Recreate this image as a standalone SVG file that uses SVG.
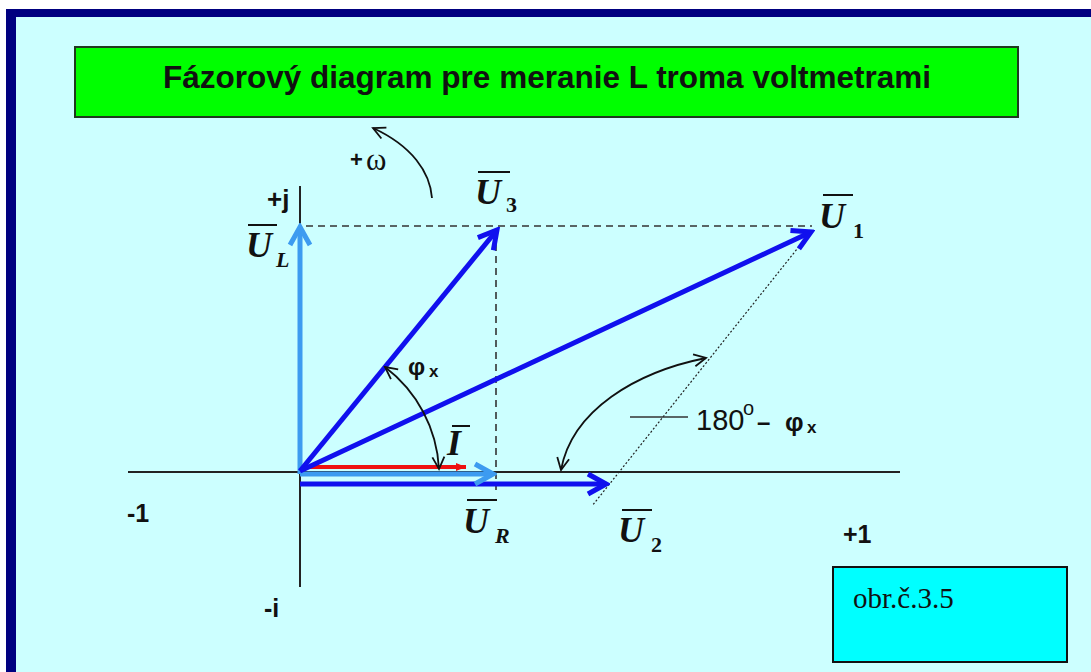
<svg xmlns="http://www.w3.org/2000/svg" width="1091" height="672" viewBox="0 0 1091 672">
<style>
.ax{stroke:#222;stroke-width:2;fill:none}
.dash{stroke:#333;stroke-width:1.6;stroke-dasharray:7 5;fill:none}
.dot{stroke:#222;stroke-width:1.2;stroke-dasharray:2 2;fill:none}
.thin{stroke:#111;stroke-width:1.8;fill:none}
.vb{stroke:#1010EE;stroke-width:5;fill:none}
.vl{stroke:#3D9BF0;stroke-width:5;fill:none}
.vr{stroke:#EE1111;stroke-width:4;fill:none}
.sans{font-family:"Liberation Sans",Arial,sans-serif;fill:#111}
.b{font-weight:bold}
.ser{font-family:"Liberation Serif","Times New Roman",serif;fill:#111}
.u{font-family:"Liberation Serif","Times New Roman",serif;font-weight:bold;font-style:italic;font-size:36px;fill:#111}
.sub{font-family:"Liberation Serif","Times New Roman",serif;font-weight:bold;font-size:22px;fill:#111}
.bar{stroke:#111;stroke-width:2}
</style>
<defs>
<marker id="mb" markerUnits="userSpaceOnUse" viewBox="-24 -14 28 28" refX="0" refY="0" markerWidth="28" markerHeight="28" orient="auto">
<path d="M-18,-10 L0,0 L-18,10" fill="none" stroke="#1010EE" stroke-width="5"/>
</marker>
<marker id="ml" markerUnits="userSpaceOnUse" viewBox="-24 -14 28 28" refX="0" refY="0" markerWidth="28" markerHeight="28" orient="auto">
<path d="M-18,-10 L0,0 L-18,10" fill="none" stroke="#3D9BF0" stroke-width="5"/>
</marker>
<marker id="mr" markerUnits="userSpaceOnUse" viewBox="-14 -8 16 16" refX="0" refY="0" markerWidth="16" markerHeight="16" orient="auto">
<path d="M-10,-4 L0,0 L-10,4 Z" fill="#EE1111"/>
</marker>
<marker id="mt" markerUnits="userSpaceOnUse" viewBox="-16 -10 18 20" refX="0" refY="0" markerWidth="18" markerHeight="20" orient="auto-start-reverse">
<path d="M-12,-6 L0,0 L-12,6" fill="none" stroke="#111" stroke-width="1.8"/>
</marker>
</defs>

<rect x="0" y="0" width="1091" height="672" fill="#CCFFFF"/>
<rect x="0" y="0" width="1091" height="9" fill="#FFFFFF"/>
<rect x="0" y="0" width="6" height="672" fill="#FFFFFF"/>
<rect x="6" y="9" width="1085" height="8" fill="#000080"/>
<rect x="6" y="9" width="10" height="663" fill="#000080"/>

<g id="title">
<rect x="75" y="47" width="943" height="70" fill="#00FF00" stroke="#1f3a1f" stroke-width="2"/>
<text x="547" y="88" text-anchor="middle" class="sans b" font-size="31.5">Fázorový diagram pre meranie L troma voltmetrami</text>
</g>

<g id="axes">
<line class="ax" x1="300" y1="186" x2="300" y2="587"/>
<line class="ax" x1="128" y1="472" x2="900" y2="472"/>
<text x="267" y="208" class="sans b" font-size="26">+j</text>
<text x="127" y="522" class="sans b" font-size="25">-1</text>
<text x="843" y="543" class="sans b" font-size="25">+1</text>
<text x="264" y="617" class="sans b" font-size="25">-i</text>
</g>

<g id="connectors">
<line class="dash" x1="306" y1="226" x2="812" y2="226"/>
<line class="dash" x1="496" y1="232" x2="496" y2="490"/>
<line class="dot" x1="809" y1="234" x2="592" y2="506"/>
<line class="vb" x1="300" y1="484" x2="606" y2="484" marker-end="url(#mb)"/>
<line class="vl" x1="300" y1="474" x2="493" y2="474" marker-end="url(#ml)"/>
<line class="vr" x1="303" y1="467" x2="466" y2="467" marker-end="url(#mr)"/>
<line class="vl" x1="300" y1="474" x2="300" y2="227" marker-end="url(#ml)"/>
<line class="vb" x1="300" y1="471" x2="497" y2="230" marker-end="url(#mb)"/>
<line class="vb" x1="300" y1="471" x2="811" y2="232" marker-end="url(#mb)"/>
<path class="thin" d="M385,367 A137,137 0 0 1 439,469" marker-start="url(#mt)" marker-end="url(#mt)"/>
<path class="thin" d="M706,358 C636,372 572,410 561,470" marker-start="url(#mt)" marker-end="url(#mt)"/>
<path class="thin" d="M432,198 C430,172 412,146 373,128" marker-end="url(#mt)"/>
<line x1="630" y1="417" x2="688" y2="417" stroke="#333" stroke-width="1.5"/>
</g>

<g id="label-omega">
<text x="350" y="167" class="sans b" font-size="22">+</text>
<text x="366" y="170" class="ser" font-size="31">ω</text>
</g>

<g id="label-UL">
<line class="bar" x1="248" y1="225" x2="277" y2="225"/>
<text x="246" y="257" class="u" font-size="33px">U</text>
<text x="276" y="267" class="sub" font-style="italic">L</text>
</g>

<g id="label-U3">
<line class="bar" x1="478" y1="172" x2="510" y2="172"/>
<text x="475" y="204" class="u" font-size="32px">U</text>
<text x="506" y="212" class="sub">3</text>
</g>

<g id="label-U1">
<line class="bar" x1="823" y1="195" x2="853" y2="195"/>
<text x="819" y="228" class="u">U</text>
<text x="853" y="238" class="sub">1</text>
</g>

<g id="label-UR">
<line class="bar" x1="467" y1="500" x2="497" y2="500"/>
<text x="463" y="533" class="u">U</text>
<text x="495" y="543" class="sub" font-style="italic">R</text>
</g>

<g id="label-U2">
<line class="bar" x1="622" y1="510" x2="652" y2="510"/>
<text x="618" y="542" class="u">U</text>
<text x="651" y="552" class="sub">2</text>
</g>

<g id="label-I">
<line class="bar" x1="452" y1="426" x2="470" y2="426"/>
<text x="447" y="455" class="u">I</text>
</g>

<g id="label-phi">
<text x="408" y="375" class="sans b" font-size="24">φ</text>
<text x="429" y="377" class="sans b" font-size="17">x</text>
</g>

<g id="label-180">
<text x="696" y="430" class="sans" font-size="29">180</text>
<text x="743" y="415" class="sans" font-size="20">o</text>
<text x="757" y="430" class="sans b" font-size="24">–</text>
<text x="785" y="431" class="sans b" font-size="26">φ</text>
<text x="807" y="433" class="sans b" font-size="17">x</text>
</g>

<g id="obr">
<rect x="833" y="567" width="234" height="95" fill="#00FFFF" stroke="#111" stroke-width="2"/>
<text x="853" y="608" class="ser" font-size="29">obr.č.3.5</text>
</g>
</svg>
